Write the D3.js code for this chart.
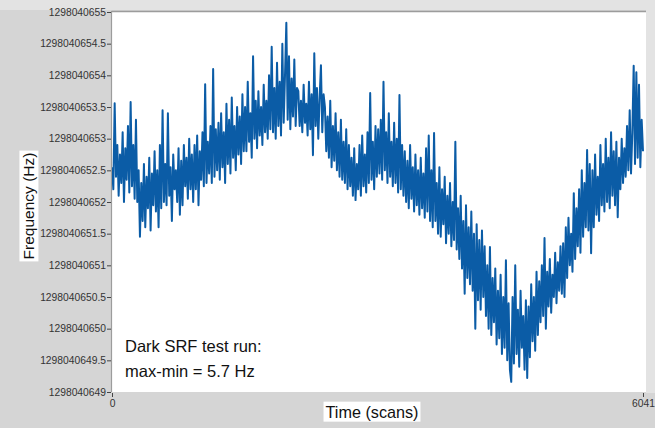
<!DOCTYPE html>
<html><head><meta charset="utf-8">
<script src="https://cdn.jsdelivr.net/npm/d3@7"></script>
<style>
html,body{margin:0;padding:0;background:#d5d5d5;}
svg{display:block;}
</style></head>
<body>
<svg id="chart" width="655" height="428"></svg>
<script>
// ---- data ----
const baseFreq = 1298040649;           // Hz, offsets below are added to this
const totalScans = 6041;
// frequency offsets (Hz above baseFreq), evenly spaced over scans 0..6041
const freqOffsets = [
3.55,3.2,4.56,3.4,3.9,3.1,3.75,3.3,4.1,3.0,3.85,3.35,4.2,3.15,4.58,3.25,3.9,3.05,4.3,3.0,
3.5,2.45,3.3,2.7,3.6,2.6,3.4,2.9,3.7,2.55,3.45,2.95,3.8,2.85,3.5,2.6,3.9,2.9,4.45,3.0,
3.6,2.95,4.4,3.1,3.55,2.7,3.75,3.2,3.5,3.0,3.85,2.8,3.65,2.95,3.9,3.25,3.7,3.05,4.0,3.2,
3.75,3.0,3.9,3.2,4.05,2.95,3.8,3.35,4.1,3.25,4.86,3.3,3.95,3.45,4.2,3.3,5.1,3.4,4.15,3.5,
4.25,3.35,4.4,3.55,4.1,3.3,4.55,3.6,4.3,3.45,4.65,3.7,4.2,3.5,4.5,3.75,4.35,3.6,4.7,3.8,
4.5,3.8,4.9,3.95,4.4,3.7,5.3,4.0,4.6,3.85,4.75,4.05,4.5,3.9,4.85,4.1,4.6,4.0,5.0,4.15,
5.45,4.1,4.8,4.0,5.2,4.2,4.9,4.05,5.5,4.25,5.0,5.83,4.3,5.3,4.15,4.95,4.35,5.25,4.2,4.8,
4.75,4.2,4.6,4.1,4.85,4.25,4.55,4.05,4.9,4.15,4.7,3.74,5.35,4.2,4.8,4.0,4.65,5.16,4.1,4.7,
4.5,3.8,4.35,3.7,4.6,3.55,4.2,3.65,4.4,3.5,4.1,3.4,4.3,3.35,3.95,3.3,4.15,3.2,3.9,3.25,
3.7,3.1,3.85,3.03,3.6,3.2,3.9,3.1,4.05,3.25,3.75,3.15,4.1,3.3,4.72,3.35,3.95,3.2,4.2,3.4,
4.15,3.45,4.3,3.35,4.9,3.5,4.1,3.3,4.4,3.4,3.95,3.25,4.25,3.3,4.0,3.15,4.69,3.2,3.9,3.1,
3.8,3.0,3.65,2.9,3.9,3.05,3.55,2.85,3.75,2.95,3.5,2.8,3.7,2.9,3.45,2.75,3.85,2.85,4.05,2.7,
3.5,2.6,4.09,2.7,3.3,2.5,3.55,2.45,3.2,2.65,3.4,2.35,3.1,2.5,3.3,2.3,3.0,2.4,3.95,2.25,
2.9,2.1,3.1,1.95,2.7,1.55,2.95,1.8,2.6,1.7,2.85,1.6,2.5,1.0,2.65,1.45,2.4,1.3,2.55,1.5,
2.3,1.2,2.0,1.0,2.29,0.9,1.8,1.1,1.95,0.75,1.6,0.85,1.85,0.6,1.5,0.7,2.08,0.5,1.4,0.35,
0.16,1.5,0.45,2.0,0.6,1.3,0.4,1.6,0.7,1.2,0.35,1.45,0.22,1.35,0.55,1.7,0.8,1.5,0.65,1.9,
0.9,1.75,1.1,2.0,1.2,2.43,1.0,1.9,1.35,2.1,1.25,1.85,1.5,2.2,1.4,2.05,1.6,2.3,1.55,2.35,
1.5,2.6,1.8,2.75,2.0,2.5,1.9,3.14,2.1,2.9,2.3,3.2,2.2,3.5,2.45,3.3,2.6,3.82,2.55,3.6,
2.19,3.5,2.6,3.75,2.8,3.4,2.7,3.9,2.95,3.6,2.85,4.0,3.0,3.7,2.9,4.1,3.1,3.8,2.95,3.95,
2.76,3.7,3.2,4.0,3.3,3.85,3.4,4.2,3.5,4.45,3.45,4.1,5.15,3.6,5.05,3.7,4.85,3.55,4.3,3.8
];
const yTickValues = [1298040649,1298040649.5,1298040650,1298040650.5,1298040651,1298040651.5,
  1298040652,1298040652.5,1298040653,1298040653.5,1298040654,1298040654.5,1298040655];
const xTickValues = [0, 6041];
const yTitle = "Frequency (Hz)";
const xTitle = "Time (scans)";
const noteLines = ["Dark SRF test run:", "max-min = 5.7 Hz"];

const series = freqOffsets.map((o, i) => ({
  scan: i * totalScans / (freqOffsets.length - 1),
  freq: baseFreq + o
}));

// ---- layout ----
const svg = d3.select("#chart");
const L = 112, R = 644, T = 12, B = 392;
const x = d3.scaleLinear().domain([0, totalScans]).range([L, R - 1]);
const y = d3.scaleLinear().domain([1298040649, 1298040655]).range([B, T]);

// panel frame
svg.append("rect").attr("x",0).attr("y",0).attr("width",655).attr("height",10).attr("fill","#e3e3e3");
svg.append("rect").attr("x",646).attr("y",0).attr("width",9).attr("height",393).attr("fill","#e3e3e3");
svg.append("rect").attr("x",L).attr("y",T).attr("width",R+2-L).attr("height",B-T).attr("fill","#ffffff");
svg.append("line").attr("x1",L-0.5).attr("x2",R+2).attr("y1",T-0.5).attr("y2",T-0.5).attr("stroke","#9c9c9c").attr("stroke-width",1.5);
svg.append("line").attr("x1",L-0.5).attr("x2",L-0.5).attr("y1",T-1).attr("y2",B).attr("stroke","#9c9c9c").attr("stroke-width",1.2);

// clip
svg.append("clipPath").attr("id","clip").append("rect").attr("x",L).attr("y",T).attr("width",R+2-L).attr("height",B-T);

// line
svg.append("path")
  .datum(series)
  .attr("clip-path","url(#clip)")
  .attr("fill","none")
  .attr("stroke","#0b5ca6")
  .attr("stroke-width",2)
  .attr("stroke-linejoin","round")
  .attr("d", d3.line().x(d => x(d.scan)).y(d => y(d.freq)));

// y axis
const yAxis = svg.append("g").attr("transform",`translate(${L-1},0)`)
  .call(d3.axisLeft(y).tickValues(yTickValues).tickSize(4).tickPadding(1).tickFormat(d => String(d)));
yAxis.select(".domain").remove();
yAxis.selectAll("line").attr("stroke","#444");
yAxis.selectAll("text").attr("fill","#333").style("font-family","'Liberation Sans', Arial, sans-serif").style("font-size","10.3px");

// x axis
const xAxis = svg.append("g").attr("transform",`translate(0,${B})`)
  .call(d3.axisBottom(x).tickValues(xTickValues).tickSize(5).tickPadding(3).tickFormat(d3.format("d")));
xAxis.select(".domain").remove();
xAxis.selectAll("line").attr("stroke","#444").attr("y1",1);
xAxis.selectAll("text").attr("fill","#333").style("font-family","'Liberation Sans', Arial, sans-serif").style("font-size","10.3px");

// titles with white boxes
function boxedText(tx, ty, text, rotate, size) {
  const g = svg.append("g").attr("transform", `translate(${tx},${ty}) rotate(${rotate})`);
  const t = g.append("text").attr("text-anchor","middle").attr("dy","0.35em")
    .style("font-family","'Liberation Sans', Arial, sans-serif").style("font-size",size+"px").attr("fill","#111").text(text);
  const bb = t.node().getBBox();
  g.insert("rect","text").attr("x",bb.x-2).attr("y",bb.y-1).attr("width",bb.width+4).attr("height",bb.height+2).attr("fill","#fff");
}
boxedText(29, 206, yTitle, -90, 15.5);
boxedText(372, 412, xTitle, 0, 16.2);

// annotation
noteLines.forEach((s, i) => {
  svg.append("text").attr("x",125).attr("y",352 + i*25)
    .style("font-family","'Liberation Sans', Arial, sans-serif").style("font-size","16.5px").attr("fill","#111").text(s);
});
</script>
</body></html>
